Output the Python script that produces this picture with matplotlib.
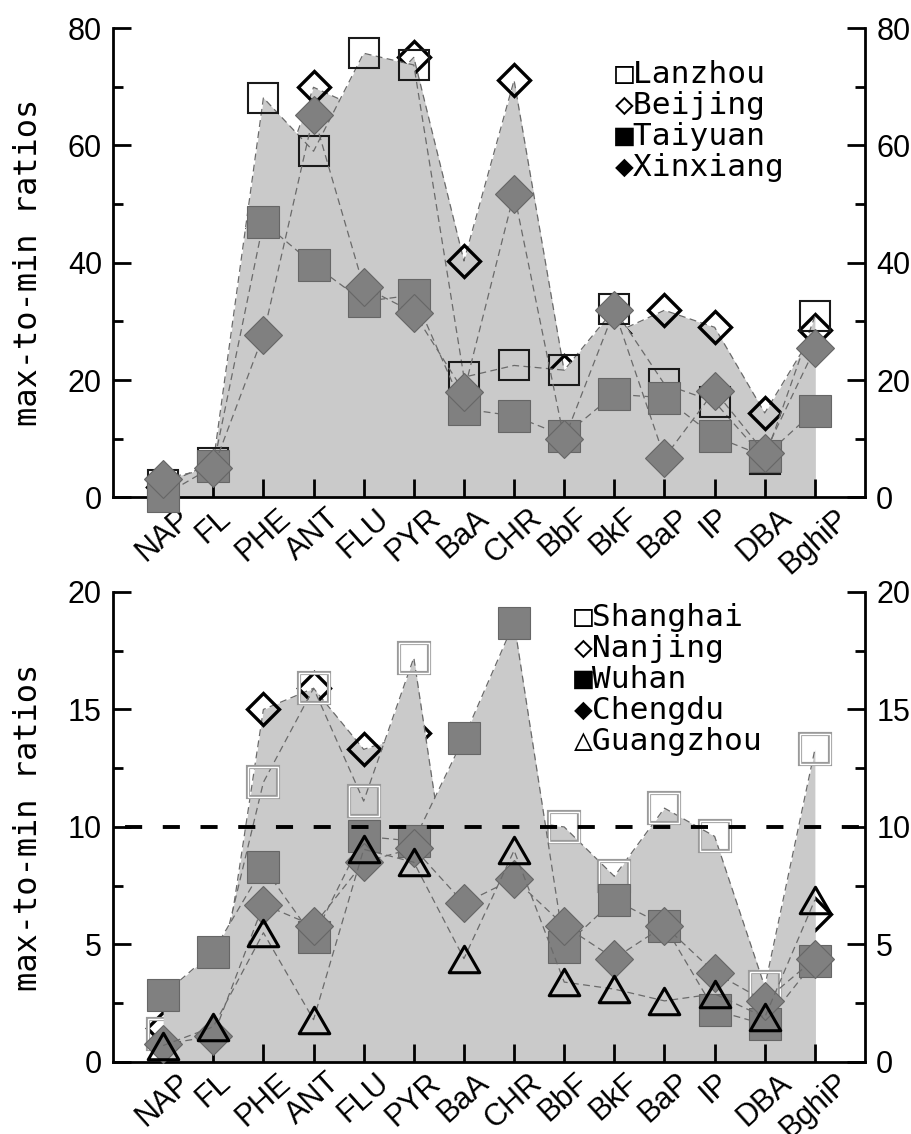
import numpy as np
import matplotlib
matplotlib.use("Agg")
import matplotlib.pyplot as plt
from matplotlib.path import Path
from matplotlib.ticker import MultipleLocator

plt.rcParams["font.family"] = ["Liberation Sans", "DejaVu Sans"]
MONO = ["DejaVu Sans Mono", "DejaVu Sans"]

# --- data (max-to-min ratios per PAH) ---
categories = ["NAP", "FL", "PHE", "ANT", "FLU", "PYR", "BaA", "CHR",
              "BbF", "BkF", "BaP", "IP", "DBA", "BghiP"]

# northern cities
lanzhou = [2.2, 5.9, 68.1, 59.0, 75.7, 73.7, 20.5, 22.5, 21.7, 32.1, 19.3, 16.3, 6.6, 30.9]
beijing = [1.8, 4.0, 46.0, 69.9, 66.0, 75.0, 40.3, 71.1, 21.5, 28.0, 31.9, 29.0, 14.4, 28.5]
taiyuan = [0.3, 5.3, 46.9, 39.7, 33.4, 34.5, 15.1, 13.9, 10.5, 17.6, 17.0, 10.4, 7.0, 14.8]
xinxiang = [3.2, 5.0, 27.7, 65.2, 35.9, 31.5, 18.0, 51.8, 9.9, 31.9, 6.8, 18.2, 7.6, 25.4]

# southern cities
shanghai = [1.2, 3.0, 11.9, 15.9, 11.1, 17.2, 3.0, 10.3, 10.0, 7.9, 10.8, 9.6, 3.2, 13.3]
nanjing = [1.45, 0.9, 15.0, 15.9, 13.3, 14.0, 4.5, 7.0, 5.0, 4.0, 5.0, 3.0, 2.0, 6.3]
wuhan = [2.85, 4.7, 8.3, 5.3, 9.6, 9.4, 13.8, 18.7, 4.9, 6.9, 5.8, 2.2, 1.6, 4.3]
chengdu = [0.75, 1.1, 6.7, 5.8, 8.5, 9.1, 6.75, 7.8, 5.8, 4.4, 5.8, 3.8, 2.6, 4.4]
guangzhou = [0.7, 1.5, 5.5, 1.8, 9.05, 8.5, 4.4, 9.0, 3.4, 3.1, 2.6, 2.9, 1.9, 6.9]

threshold = 10

x = np.arange(len(categories))

FILL = "#cacaca"
LINE = "#6a6a6a"
tri = Path([(-1, -0.866), (1, -0.866), (0, 0.866), (-1, -0.866)], closed=True)

open_sq = dict(marker="s", ms=22, mfc="none", mec="#1a1a1a", mew=1.5)
open_dia = dict(marker="D", ms=16.5, mfc="none", mec="black", mew=2.4)
fill_sq = dict(marker="s", ms=23.5, mfc="#808080", mec="#666666", mew=0.8)
fill_dia = dict(marker="D", ms=19, mfc="#808080", mec="#666666", mew=0.8)
open_tri = dict(marker=tri, ms=22, mfc="none", mec="black", mew=2.2)
dbl_sq = dict(marker="s", ms=21, mfc="none", mec="#9a9a9a", mew=3.0)


def draw(ax, vals, style, z_fill, z_line, z_mark, double=False):
    y = np.asarray(vals, dtype=float)
    ax.fill_between(x, y, 0, color=FILL, lw=0, zorder=z_fill)
    ax.plot(x, y, ls=(0, (5.5, 3.5)), lw=0.9, color=LINE, zorder=z_line)
    ax.plot(x, y, ls="none", clip_on=False, zorder=z_mark, **style)
    if double:
        inner = dict(style, mec="white", mew=1.0)
        ax.plot(x, y, ls="none", clip_on=False, zorder=z_mark + 0.1, **inner)


fig = plt.figure(figsize=(9.12, 11.34), dpi=100)
ax1 = fig.add_axes([0.1239, 0.5613, 0.8246, 0.4140])
ax2 = fig.add_axes([0.1239, 0.0635, 0.8246, 0.4145])

# --- top panel ---
draw(ax1, beijing, open_dia, 1, 1.5, 2)
draw(ax1, lanzhou, open_sq, 3, 3.5, 4)
draw(ax1, taiyuan, fill_sq, 0.5, 6.5, 7)
draw(ax1, xinxiang, fill_dia, 0.5, 7.5, 8)

# --- bottom panel ---
draw(ax2, nanjing, open_dia, 1, 1.5, 2)
draw(ax2, shanghai, dbl_sq, 3, 3.5, 4, double=True)
draw(ax2, wuhan, fill_sq, 5, 5.5, 7)
draw(ax2, chengdu, fill_dia, 0.5, 7.5, 8)
draw(ax2, guangzhou, open_tri, 0.5, 8.5, 9)
ax2.axhline(threshold, color="black", lw=2.8, ls=(6.6, (4.4, 5.3)), zorder=11)

for ax, ymax, major in [(ax1, 80, 20), (ax2, 20, 5)]:
    ax.set_xlim(-1, 14)
    ax.set_ylim(0, ymax)
    ax.yaxis.set_major_locator(MultipleLocator(major))
    ax.yaxis.set_minor_locator(MultipleLocator(major / 2))
    ax.spines["top"].set_visible(False)
    for s in ["left", "right", "bottom"]:
        ax.spines[s].set_linewidth(2)
        ax.spines[s].set_zorder(6)
    ax.xaxis.set_zorder(6)
    ax.yaxis.set_zorder(6)
    ax.tick_params(axis="y", which="both", direction="in", left=True, right=True,
                   labelleft=True, labelright=True, width=2, labelsize=22, pad=8)
    ax.tick_params(axis="y", which="major", length=13)
    ax.tick_params(axis="y", which="minor", length=7)
    ax.tick_params(axis="x", which="major", direction="in", length=13, width=2,
                   labelsize=22, pad=4)
    ax.set_xticks(x)
    ax.set_xticklabels(categories, rotation=42, ha="center")
    ax.text(-0.112, 0.5, "max-to-min ratios", transform=ax.transAxes, rotation=90,
            ha="center", va="center", fontsize=23, family=MONO)

legend_top = ["\u25a1Lanzhou", "\u25c7Beijing", "\u25a0Taiyuan", "\u25c6Xinxiang"]
for i, s in enumerate(legend_top):
    ax1.text(0.668, 0.883 - i * 0.066, s, transform=ax1.transAxes, family=MONO,
             fontsize=22.5, va="baseline", ha="left", zorder=12)

legend_bottom = ["\u25a1Shanghai", "\u25c7Nanjing", "\u25a0Wuhan", "\u25c6Chengdu",
                 "\u25b3Guangzhou"]
for i, s in enumerate(legend_bottom):
    ax2.text(0.613, 0.928 - i * 0.066, s, transform=ax2.transAxes, family=MONO,
             fontsize=22.5, va="baseline", ha="left", zorder=12)

fig.savefig("out.png", dpi=100)
